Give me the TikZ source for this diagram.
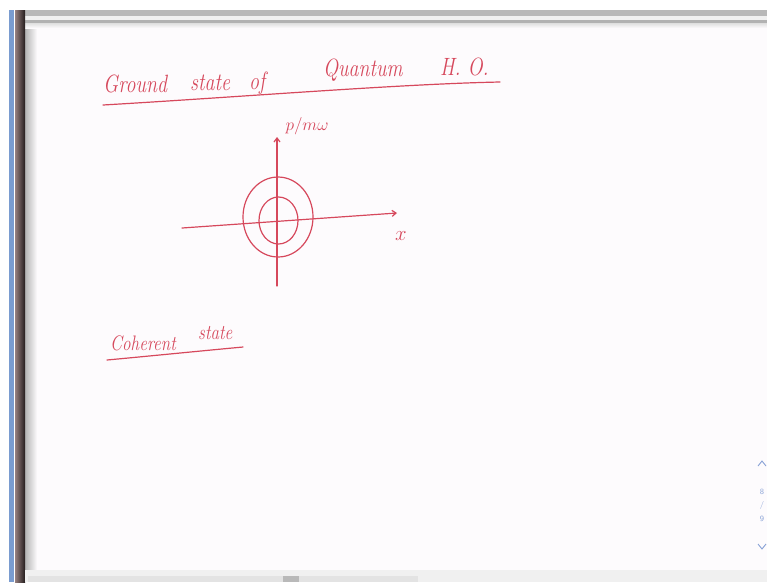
\documentclass[tikz,border=0pt]{standalone}
\usepackage{amsmath,amssymb}
\usetikzlibrary{arrows.meta,positioning,calc}
\definecolor{inkred}{RGB}{214,72,92}
\definecolor{chromegray}{RGB}{184,184,184}
\definecolor{paper}{RGB}{253,251,253}
\definecolor{barblue}{RGB}{122,156,208}
\definecolor{barmauve}{RGB}{150,128,128}
\definecolor{bardark}{RGB}{35,28,28}
\definecolor{pagerblue}{RGB}{140,165,215}

\begin{document}
\begin{tikzpicture}[x=1pt,y=-1pt,
  ink/.style={inkred,line width=1.2pt,line cap=round,line join=round},
  hand/.style={inkred,font=\fontsize{25}{25}\selectfont\itshape,anchor=base west,
    inner sep=0pt,xscale=0.8,transform shape},
  smallhand/.style={hand,font=\fontsize{21}{21}\selectfont\itshape,xscale=1.02},
  pager/.style={pagerblue,font=\fontsize{8}{8}\selectfont\sffamily,inner sep=0pt}]
  \useasboundingbox (0,0) rectangle (767,582);
  \fill[white] (0,0) rectangle (767,582);
  % window frame
  \fill[paper] (25,23) rectangle (767,570);
  \shade[left color=gray!60,right color=paper] (25,23) rectangle (37,570);
  \fill[chromegray] (25,10) rectangle (767,16);
  \fill[gray!12] (25,16) rectangle (767,20);
  \fill[gray!60] (25,20) rectangle (767,23);
  \shade[top color=gray!25,bottom color=paper] (25,23) rectangle (767,28);
  \fill[barblue] (9,10) rectangle (14,582);
  \shade[left color=barmauve,right color=bardark] (15,10) rectangle (25,582);
  \fill[gray!12] (25,570) rectangle (767,582);
  \fill[gray!22] (28,576) rectangle (418,582);
  \fill[gray!55] (283,576) rectangle (299,582);
  % title
  \node[hand] (ground) at (103,92) {Ground};
  \node[hand] (state1) at (190,90) {state};
  \node[hand] (of) at (249,89) {of};
  \node[hand] (quantum) at (323,76) {Quantum};
  \node[hand] (ho) at (440,75) {H. O.};
  \draw[ink] (103,105) .. controls (240,97) and (400,84) .. (500,82);
  % phase space
  \coordinate (xl) at (182,228);
  \coordinate (xr) at (397,213);
  \coordinate (pb) at (277,286);
  \coordinate (pt) at (277,137);
  \draw[ink,-{Straight Barb[length=4pt,width=6pt]}] (xl) -- (xr);
  \draw[ink,-{Straight Barb[length=4pt,width=6pt]}] (pb) -- (pt);
  \draw[ink] (278,217) ellipse [x radius=35, y radius=40];
  \draw[ink] (278.5,220.5) ellipse [x radius=19.5, y radius=23.5];
  \node[inkred,font=\fontsize{16}{16}\selectfont] (plabel) at (307,126) {$p/m\omega$};
  \node[inkred,font=\fontsize{22}{22}\selectfont] (xlabel) at (401,236) {$x$};
  % coherent state
  \node[smallhand] (coherent) at (110,350) {Coherent};
  \node[smallhand] (state2) at (198,339) {state};
  \draw[ink] (107,360) .. controls (150,356) and (200,351) .. (243,347);
  % pager
  \draw[pagerblue,line width=0.9pt] (758,466) -- (762,461) -- (766,466);
  \node[pager] (pone) at (762,492) {8};
  \node[pager] (pslash) at (762,505) {/};
  \node[pager] (ptwo) at (762,519) {9};
  \draw[pagerblue,line width=0.9pt] (758,544) -- (762,549) -- (766,544);
\end{tikzpicture}
\end{document}
